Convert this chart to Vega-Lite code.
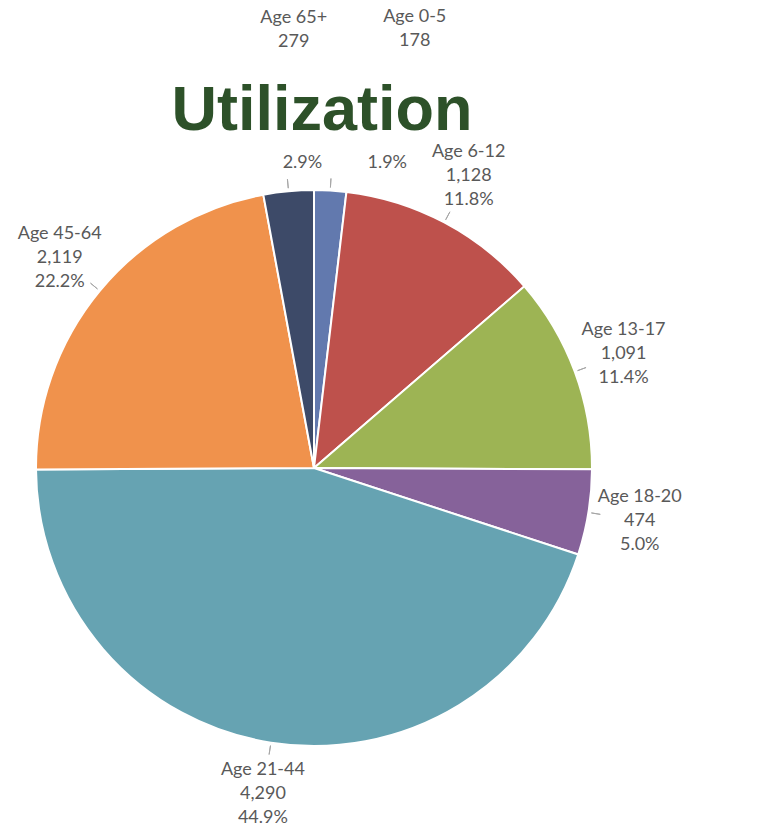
{
  "$schema": "https://vega.github.io/schema/vega-lite/v6.json",
  "width": 628,
  "height": 556,
  "autosize": {"type": "none"},
  "padding": {"left": 0, "top": 190, "right": 152, "bottom": 88},
  "background": "white",
  "title": {
    "text": "Utilization",
    "font": "Liberation Sans",
    "fontWeight": "bold",
    "fontSize": 63,
    "color": "#2D5129",
    "anchor": "middle",
    "frame": "group",
    "baseline": "alphabetic",
    "offset": 0,
    "dx": 8,
    "dy": 185
  },
  "config": {"view": {"stroke": null}},
  "data": {
    "values": [
      {"idx": 1, "category": "Age 0-5", "value": 178, "pct": 0.019},
      {"idx": 2, "category": "Age 6-12", "value": 1128, "pct": 0.118},
      {"idx": 3, "category": "Age 13-17", "value": 1091, "pct": 0.114},
      {"idx": 4, "category": "Age 18-20", "value": 474, "pct": 0.05},
      {"idx": 5, "category": "Age 21-44", "value": 4290, "pct": 0.449},
      {"idx": 6, "category": "Age 45-64", "value": 2119, "pct": 0.222},
      {"idx": 7, "category": "Age 65+", "value": 279, "pct": 0.029}
    ]
  },
  "encoding": {
    "theta": {"field": "value", "type": "quantitative", "stack": true},
    "order": {"field": "idx", "type": "quantitative"}
  },
  "layer": [
    {
      "mark": {"type": "arc", "stroke": "white", "strokeWidth": 2},
      "encoding": {
        "color": {
          "field": "category",
          "type": "nominal",
          "legend": null,
          "scale": {
            "domain": ["Age 0-5", "Age 6-12", "Age 13-17", "Age 18-20", "Age 21-44", "Age 45-64", "Age 65+"],
            "range": ["#6279AE", "#BE514C", "#9DB454", "#86629A", "#66A3B2", "#F0924C", "#3D4A68"]
          }
        }
      }
    },
    {
      "mark": {"type": "arc", "radius": 290, "radius2": 281, "padAngle": 3.14, "fill": "white", "fillOpacity": 0, "stroke": "#A6A6A6", "strokeWidth": 1}
    },
    {
      "mark": {"type": "text", "radius": 330, "dy": -24, "font": "Lato", "fontSize": 18, "color": "#595959"},
      "encoding": {
        "text": {"condition": {"test": "datum.idx == 1 || datum.idx == 7", "value": ""}, "field": "category", "type": "nominal"}
      }
    },
    {
      "mark": {"type": "text", "radius": 330, "dy": 0, "font": "Lato", "fontSize": 18, "color": "#595959"},
      "encoding": {
        "text": {"condition": {"test": "datum.idx == 1 || datum.idx == 7", "value": ""}, "field": "value", "type": "quantitative", "format": ","}
      }
    },
    {
      "mark": {"type": "text", "radius": 330, "dy": 24, "font": "Lato", "fontSize": 18, "color": "#595959"},
      "encoding": {
        "text": {"condition": {"test": "datum.idx == 1 || datum.idx == 7", "value": ""}, "field": "pct", "type": "quantitative", "format": ".1%"}
      }
    },
    {
      "mark": {"type": "text", "radius": 440, "dy": -12, "dx": 20, "font": "Lato", "fontSize": 18, "color": "#595959"},
      "encoding": {
        "text": {"condition": {"test": "datum.idx != 7", "value": ""}, "field": "category", "type": "nominal"}
      }
    },
    {
      "mark": {"type": "text", "radius": 440, "dy": 12, "dx": 20, "font": "Lato", "fontSize": 18, "color": "#595959"},
      "encoding": {
        "text": {"condition": {"test": "datum.idx != 7", "value": ""}, "field": "value", "type": "quantitative", "format": ","}
      }
    },
    {
      "mark": {"type": "text", "radius": 312, "dy": 6, "dx": 17, "font": "Lato", "fontSize": 18, "color": "#595959"},
      "encoding": {
        "text": {"condition": {"test": "datum.idx != 7", "value": ""}, "field": "pct", "type": "quantitative", "format": ".1%"}
      }
    },
    {
      "mark": {"type": "text", "radius": 440, "dy": -12, "dx": 75, "font": "Lato", "fontSize": 18, "color": "#595959"},
      "encoding": {
        "text": {"condition": {"test": "datum.idx != 1", "value": ""}, "field": "category", "type": "nominal"}
      }
    },
    {
      "mark": {"type": "text", "radius": 440, "dy": 12, "dx": 75, "font": "Lato", "fontSize": 18, "color": "#595959"},
      "encoding": {
        "text": {"condition": {"test": "datum.idx != 1", "value": ""}, "field": "value", "type": "quantitative", "format": ","}
      }
    },
    {
      "mark": {"type": "text", "radius": 312, "dy": 6, "dx": 55, "font": "Lato", "fontSize": 18, "color": "#595959"},
      "encoding": {
        "text": {"condition": {"test": "datum.idx != 1", "value": ""}, "field": "pct", "type": "quantitative", "format": ".1%"}
      }
    }
  ]
}
